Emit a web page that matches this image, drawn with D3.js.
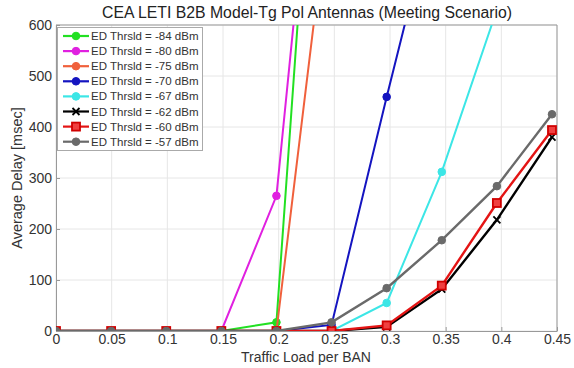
<!DOCTYPE html>
<html><head><meta charset="utf-8">
<script src="https://cdn.jsdelivr.net/npm/d3@7"></script>
<style>body{margin:0;background:#fff;}svg{display:block;font-family:"Liberation Sans",Arial,sans-serif;}</style>
</head><body><svg id="c" width="574" height="368"></svg>
<script>
const xValues = [0, 0.0495, 0.099, 0.1485, 0.198, 0.2475, 0.297, 0.3465, 0.396, 0.4455];
const xTicks = [0, 0.05, 0.1, 0.15, 0.2, 0.25, 0.3, 0.35, 0.4, 0.45];
const xTickLabels = ["0", "0.05", "0.1", "0.15", "0.2", "0.25", "0.3", "0.35", "0.4", "0.45"];
const yTicks = [0, 100, 200, 300, 400, 500, 600];
const seriesNames = ["ED Thrsld = -84 dBm","ED Thrsld = -80 dBm","ED Thrsld = -75 dBm","ED Thrsld = -70 dBm","ED Thrsld = -67 dBm","ED Thrsld = -62 dBm","ED Thrsld = -60 dBm","ED Thrsld = -57 dBm"];
const seriesColors = ["#22e022","#e020e0","#f0603c","#1414c0","#3ce6e6","#000000","#e41414","#6a6a6a"];
const seriesMarkers = ["circle","circle","circle","circle","circle","x","square","circle"];
const s84 = [0, 0, 0, 0, 17, 1540];
const s80 = [0, 0, 0, 0, 265, 1350];
const s75 = [0, 0, 0, 0, 0, 890];
const s70 = [0, 0, 0, 0, 0, 12, 459, 890];
const s67 = [0, 0, 0, 0, 0, 0, 55, 312, 630];
const s62 = [0, 0, 0, 0, 0, 0, 8, 82, 218, 380];
const s60 = [0, 0, 0, 0, 0, 0, 11, 89, 251, 394];
const s57 = [0, 0, 0, 0, 0, 17, 84, 178, 284, 425];
const seriesValues = [s84, s80, s75, s70, s67, s62, s60, s57];

const svg = d3.select("#c");
const L = 56, R = 557, T = 25, B = 331;
const x = d3.scaleLinear().domain([0, 0.45]).range([L, R]);
const y = d3.scaleLinear().domain([0, 600]).range([B, T]);

svg.append("defs").append("clipPath").attr("id","clip")
  .append("rect").attr("x", L).attr("y", T).attr("width", R - L).attr("height", B - T);

// gridlines
const g = svg.append("g");
g.selectAll(".vg").data(xTicks).enter().append("line")
  .attr("x1", d => x(d)).attr("x2", d => x(d)).attr("y1", T).attr("y2", B)
  .attr("stroke", "#e6e6e6").attr("stroke-width", 1);
g.selectAll(".hg").data(yTicks).enter().append("line")
  .attr("y1", d => y(d)).attr("y2", d => y(d)).attr("x1", L).attr("x2", R)
  .attr("stroke", "#e6e6e6").attr("stroke-width", 1);

// axes
const xAxis = d3.axisBottom(x).tickValues(xTicks).tickFormat((d, i) => xTickLabels[i]).tickSizeInner(-4).tickSizeOuter(0).tickPadding(3);
const yAxis = d3.axisLeft(y).tickValues(yTicks).tickFormat(d3.format("d")).tickSizeInner(-4).tickSizeOuter(0).tickPadding(4);
const ax = svg.append("g").attr("transform", `translate(0,${B})`).call(xAxis);
const ay = svg.append("g").attr("transform", `translate(${L},0)`).call(yAxis);
[ax, ay].forEach(a => {
  a.select(".domain").attr("stroke", "#999");
  a.selectAll(".tick line").attr("stroke", "#999");
  a.selectAll("text").attr("fill", "#333").style("font-size", "14px").style("font-family", "Liberation Sans, Arial, sans-serif");
});
// box top/right
svg.append("line").attr("x1", L).attr("x2", R).attr("y1", T).attr("y2", T).attr("stroke", "#999");
svg.append("line").attr("x1", R).attr("x2", R).attr("y1", T).attr("y2", B).attr("stroke", "#999");

// series
const plot = svg.append("g").attr("clip-path", "url(#clip)");
const line = d3.line().x((d, i) => x(xValues[i])).y(d => y(d));
function drawMarker(sel, type, color, cx, cy) {
  if (type === "circle") {
    sel.append("circle").attr("cx", cx).attr("cy", cy).attr("r", 3.8).attr("fill", color).attr("stroke", color);
  } else if (type === "square") {
    sel.append("rect").attr("x", cx - 4).attr("y", cy - 4).attr("width", 8).attr("height", 8)
      .attr("fill", "#f04040").attr("stroke", "#d00000").attr("stroke-width", 1.8);
  } else {
    const s = 3.5;
    sel.append("path").attr("d", `M${cx-s},${cy-s}L${cx+s},${cy+s}M${cx-s},${cy+s}L${cx+s},${cy-s}`)
      .attr("stroke", color).attr("stroke-width", 1.8).attr("fill", "none");
  }
}
seriesValues.forEach((vals, k) => {
  plot.append("path").datum(vals).attr("d", line).attr("fill", "none")
    .attr("stroke", seriesColors[k]).attr("stroke-width", k >= 5 ? 2.4 : 2);
  vals.forEach((v, i) => {
    if (v <= 600) drawMarker(plot, seriesMarkers[k], seriesColors[k], x(xValues[i]), y(v));
  });
});

// legend
const lg = svg.append("g");
lg.append("rect").attr("x", 57.5).attr("y", 27.5).attr("width", 145).attr("height", 123)
  .attr("fill", "#fff").attr("stroke", "#aaa").attr("stroke-width", 1);
seriesNames.forEach((name, k) => {
  const yy = 36 + k * 15.1;
  lg.append("line").attr("x1", 63).attr("x2", 89).attr("y1", yy).attr("y2", yy)
    .attr("stroke", seriesColors[k]).attr("stroke-width", 2.2);
  drawMarker(lg, seriesMarkers[k], seriesColors[k], 76, yy);
  lg.append("text").attr("x", 91).attr("y", yy + 4).text(name)
    .style("font-size", "11.5px").attr("fill", "#333");
});

// title and labels
svg.append("text").attr("x", 307).attr("y", 18).attr("text-anchor", "middle")
  .style("font-size", "15.8px").attr("fill", "#222").text("CEA LETI B2B Model-Tg Pol Antennas (Meeting Scenario)");
svg.append("text").attr("x", 306).attr("y", 362).attr("text-anchor", "middle")
  .style("font-size", "14px").attr("fill", "#333").text("Traffic Load per BAN");
svg.append("text").attr("transform", `translate(22,${(T + B) / 2}) rotate(-90)`).attr("text-anchor", "middle")
  .style("font-size", "14.5px").attr("fill", "#333").text("Average Delay [msec]");
</script></body></html>
